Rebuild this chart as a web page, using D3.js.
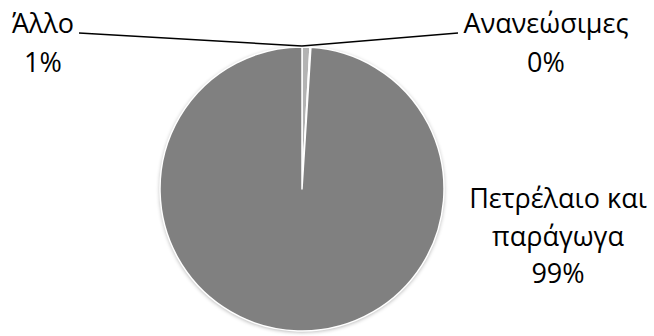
<!DOCTYPE html>
<html><head><meta charset="utf-8">
<script src="https://cdn.jsdelivr.net/npm/d3@7"></script>
<style>body{margin:0;background:#fff}svg{display:block}text{font-family:"Open Sans","Noto Sans",sans-serif;fill:#000}</style>
</head><body>
<script>
const categories = ["Άλλο", "Ανανεώσιμες", "Πετρέλαιο και παράγωγα"];
const values = [0.9, 0.1, 99.0];
const pctLabels = ["1%", "0%", "99%"];
const colors = ["#b3b3b3", "#9a9a9a", "#808080"];

(function(){
const W = 654, H = 336;
const svg = d3.select("body").append("svg").attr("width", W).attr("height", H);
const defs = svg.append("defs");
const f = defs.append("filter").attr("id","sh").attr("x","-10%").attr("y","-10%").attr("width","120%").attr("height","120%");
f.append("feGaussianBlur").attr("in","SourceAlpha").attr("stdDeviation",2).attr("result","b");
f.append("feOffset").attr("in","b").attr("dx",0).attr("dy",1).attr("result","o");
f.append("feComponentTransfer").attr("in","o").attr("result","s").append("feFuncA").attr("type","linear").attr("slope",0.35);
const fm = f.append("feMerge"); fm.append("feMergeNode").attr("in","s"); fm.append("feMergeNode").attr("in","SourceGraphic");

const cx = 302, cy = 189, r = 142;
const data = categories.map((c,i)=>({c, v: values[i], p: pctLabels[i], col: colors[i]}));
const pie = d3.pie().sort(null).value(d=>d.v);
const arc = d3.arc().innerRadius(0).outerRadius(r);
const g = svg.append("g").attr("transform",`translate(${cx},${cy})`);
g.append("circle").attr("r", r).attr("fill","#808080").attr("filter","url(#sh)");
g.selectAll("path").data(pie(data)).join("path")
  .attr("d", arc).attr("fill", d=>d.data.col)
  .attr("stroke","#fff").attr("stroke-width",1.5).attr("stroke-linejoin","round");

const tp = [cx, cy - r - 1];
svg.append("path").attr("d", `M79,33 L${tp[0]},${tp[1]}`).attr("stroke","#000").attr("stroke-width",1.6).attr("fill","none");
svg.append("path").attr("d", `M${tp[0]},${tp[1]} L458,33`).attr("stroke","#000").attr("stroke-width",1.6).attr("fill","none");

const fs = 27;
function label(x, lines, y0, dy){
  const t = svg.append("text").attr("text-anchor","middle").attr("font-size",fs);
  lines.forEach((l,i)=>t.append("tspan").attr("x",x).attr("y",y0+i*dy).text(l));
}
label(43, [categories[0], data[0].p], 33, 38.5);
label(546, [categories[1], data[1].p], 33, 38.5);
label(558, ["Πετρέλαιο και", "παράγωγα", data[2].p], 208, 37.5);
})();
</script>
</body></html>
